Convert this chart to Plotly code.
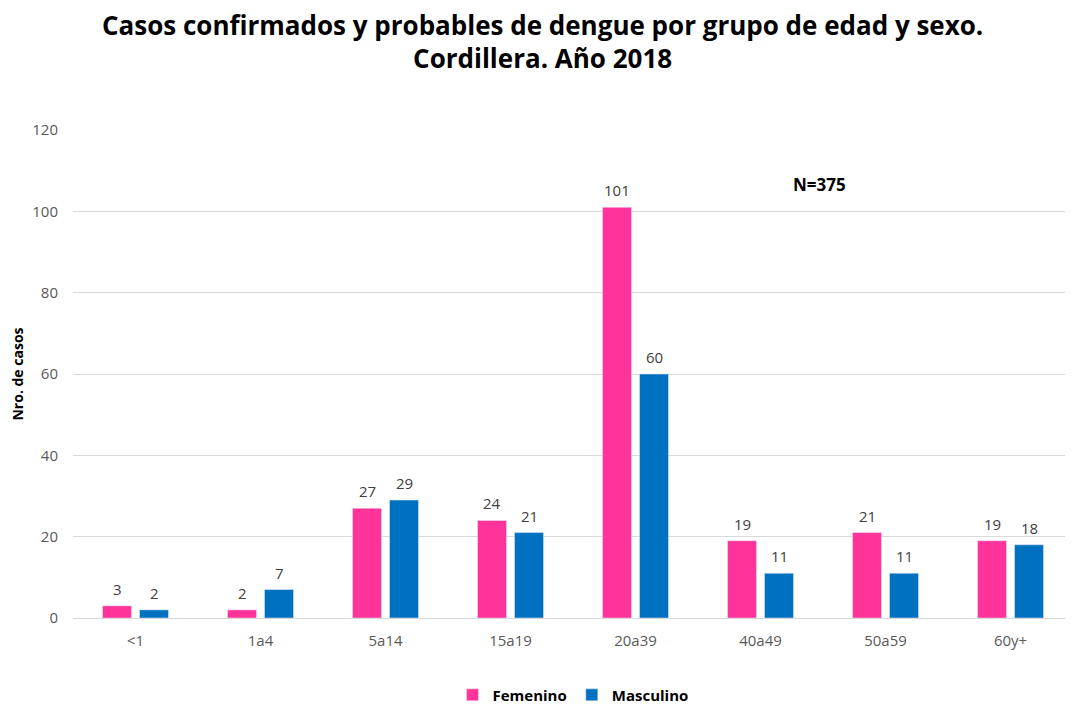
import plotly.graph_objects as go

categories = ["<1", "1a4", "5a14", "15a19", "20a39", "40a49", "50a59", "60y+"]
femenino = [3, 2, 27, 24, 101, 19, 21, 19]
masculino = [2, 7, 29, 21, 60, 11, 11, 18]
y_ticks = [0, 20, 40, 60, 80, 100, 120]

FONT = "Open Sans"
PINK = "#FF3399"
BLUE = "#0070C0"
BARGAP = 0.408
BARGROUPGAP = 0.216
SLOT_PX = 1000 / len(categories)

fig = go.Figure()
fig.add_trace(go.Bar(x=categories, y=femenino, name="<b>Femenino</b>", marker_color=PINK))
fig.add_trace(go.Bar(x=categories, y=masculino, name="<b>Masculino</b>", marker_color=BLUE))

# data labels placed above each bar
half = SLOT_PX * (1 - BARGAP) / 4
for vals, sign in ((femenino, -1), (masculino, 1)):
    for c, v in zip(categories, vals):
        fig.add_annotation(x=c, y=v, xref="x", yref="y", text=str(v), showarrow=False,
                           xshift=sign * half, yshift=17, yanchor="middle",
                           font=dict(size=15, color="#404040", family=FONT))

fig.update_layout(
    width=1065, height=701,
    paper_bgcolor="white", plot_bgcolor="white",
    margin=dict(l=65, r=0, t=122, b=91, autoexpand=False),
    barmode="group", bargap=BARGAP, bargroupgap=BARGROUPGAP,
    title=dict(text="<b>Casos confirmados y probables de dengue por grupo de edad y sexo.<br>Cordillera. Año 2018</b>",
               x=0.502, xanchor="center", y=0.962, yanchor="top",
               font=dict(size=26, color="black", family=FONT)),
    font=dict(family=FONT, color="#595959"),
    legend=dict(orientation="h", x=0.50, xanchor="center", y=-0.158, yanchor="middle",
                font=dict(size=15, color="black", family=FONT), itemwidth=30,
                traceorder="normal"),
)
fig.update_xaxes(showgrid=False, showline=True, linecolor="#D9D9D9", linewidth=1,
                 tickfont=dict(size=15, color="#595959"), ticks="", ticklabelstandoff=9,
                 automargin=False)
fig.update_yaxes(range=[0, 120], tickvals=y_ticks, showgrid=True, gridcolor="#D9D9D9",
                 zeroline=False, showline=False, tickfont=dict(size=15, color="#595959"),
                 ticks="", ticklabelstandoff=14, automargin=False,
                 title=dict(text="<b>Nro. de casos</b>", font=dict(size=14, color="black"), standoff=6))
fig.add_annotation(text="<b>N=375</b>", x=0.775, xref="paper", y=106.7, yref="y",
                   showarrow=False, font=dict(size=17, color="black", family=FONT))

fig.write_html("out.html")
